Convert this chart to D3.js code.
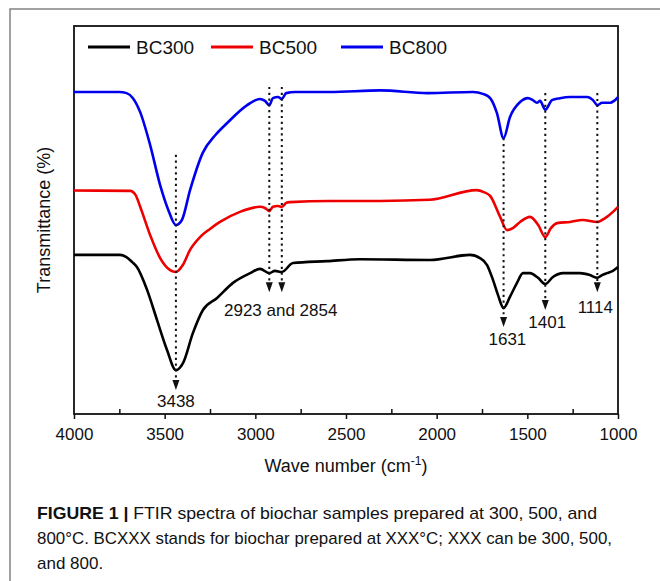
<!DOCTYPE html>
<html>
<head>
<meta charset="utf-8">
<script src="https://cdn.jsdelivr.net/npm/d3@7"></script>
<style>
  body { margin: 0; background: #fff; }
  svg text { font-family: "Liberation Sans", Arial, sans-serif; fill: #111; }
</style>
</head>
<body>
<div class="chart"></div>
<script>
// FTIR spectra (transmittance in arbitrary % units)
var wn300 = [4000,3860,3746,3713,3680,3653,3597,3542,3487,3438,3399,3344,3289,3211,3123,3029,2974,2923,2892,2854,2792,2605,2423,2037,1816,1761,1722,1689,1662,1631,1596,1557,1524,1485,1441,1401,1359,1303,1210,1155,1114,1088,1061,1028,1000];
var t300 = [41.0,41.0,41.0,40.5,39.2,37.9,32.0,24.2,16.5,11.3,13.1,20.9,26.8,29.9,33.8,36.3,37.4,36.3,36.9,36.6,38.9,39.4,39.9,39.7,41.0,40.2,38.4,34.5,30.7,27.3,30.2,33.8,36.3,36.3,35.1,33.5,35.3,36.3,36.3,35.8,35.1,35.8,36.3,36.9,37.9];

var wn500 = [4000,3690,3660,3635,3580,3525,3470,3438,3400,3360,3305,3250,3195,3085,2975,2947,2923,2903,2875,2854,2830,2810,2590,2310,2040,1780,1740,1705,1650,1612,1580,1540,1485,1440,1401,1370,1336,1265,1195,1114,1088,1061,1028,1000];
var t500 = [57.6,57.5,56.4,53.4,46.1,40.2,37.1,36.6,38.4,42.3,45.6,47.7,49.5,52.1,53.4,53.1,52.3,53.4,53.6,53.4,54.4,54.6,54.9,54.9,55.2,57.7,57.2,56.2,50.8,47.4,47.9,49.5,50.8,48.7,45.6,47.9,49.2,49.5,50.0,49.5,50.0,50.8,52.1,53.4];

var wn800 = [4000,3860,3750,3710,3675,3635,3580,3525,3480,3438,3405,3360,3290,3220,3155,3045,2975,2947,2923,2903,2875,2854,2830,2780,2590,2310,2050,1800,1745,1705,1668,1631,1596,1540,1497,1470,1447,1430,1401,1364,1320,1265,1170,1138,1114,1088,1044,1022,1000];
var t800 = [83.0,83.0,83.0,82.7,81.4,77.8,69.3,59.0,52.6,48.7,50.0,57.7,67.3,71.9,75.0,79.6,81.2,80.7,79.6,81.4,81.7,81.2,82.7,83.0,83.0,83.4,82.7,83.0,82.5,81.4,77.6,71.1,76.5,80.4,81.4,80.9,80.2,80.7,78.4,80.9,81.4,81.7,81.7,80.9,79.6,80.2,80.2,80.7,81.7];

var seriesNames = ["BC300", "BC500", "BC800"];
var seriesColors = ["#000000", "#ee0000", "#0000ee"];

// marked bands: dotted line from lineTop down to arrow tip
var peakWn = [3438, 2923, 2854, 1631, 1401, 1114];
var peakTop = [66.8, 84.3, 84.3, 71.1, 82.7, 82.7];
var peakTip = [6.2, 31.4, 31.4, 22.4, 26.8, 31.4];

var peakLabels = ["3438", "2923 and 2854", "1631", "1401", "1114"];
var labelWn = [3438, 2860, 1610, 1390, 1125];
var labelT = [1.8, 25.2, 17.8, 22.2, 26.0];

var majorTicks = [4000, 3500, 3000, 2500, 2000, 1500, 1000];
var minorTicks = [3750, 3250, 2750, 2250, 1750, 1250];

var captionLines = [
  ["FIGURE 1 | ", "FTIR spectra of biochar samples prepared at 300, 500, and"],
  ["", "800\u00B0C. BCXXX stands for biochar prepared at XXX\u00B0C; XXX can be 300, 500,"],
  ["", "and 800."]
];

var svgWidth = 660;
var svgHeight = 581;
var margin = { top: 26, right: 42, bottom: 167, left: 74 };
var width = svgWidth - margin.left - margin.right;
var height = svgHeight - margin.top - margin.bottom;

var svg = d3.select(".chart")
  .append("svg")
  .attr("width", svgWidth)
  .attr("height", svgHeight);

// outer grey figure frame
svg.append("rect")
  .attr("x", 10).attr("y", 9)
  .attr("width", 700).attr("height", 700)
  .attr("fill", "none")
  .attr("stroke", "#8a8a8a")
  .attr("stroke-width", 1.6);

var chartGroup = svg.append("g")
  .attr("transform", `translate(${margin.left}, ${margin.top})`);

var x = d3.scaleLinear().domain([4000, 1000]).range([0, width]);
var y = d3.scaleLinear().domain([0, 100]).range([height, 0]);

// ticks: major outward with labels, minor inward
var bottomAxis = d3.axisBottom(x).tickValues(majorTicks).tickSize(5).tickPadding(9).tickFormat(d3.format("d"));
var axisG = chartGroup.append("g")
  .attr("transform", `translate(0, ${height})`)
  .call(bottomAxis);
axisG.select(".domain").remove();
axisG.selectAll("line").attr("stroke", "#111").attr("stroke-width", 1.5);
axisG.selectAll("text").attr("font-size", 17).attr("font-family", "Liberation Sans, Arial, sans-serif").attr("fill", "#111");

var minorAxis = d3.axisBottom(x).tickValues(minorTicks).tickSize(-5).tickFormat("");
var minorG = chartGroup.append("g")
  .attr("transform", `translate(0, ${height})`)
  .call(minorAxis);
minorG.select(".domain").remove();
minorG.selectAll("line").attr("stroke", "#111").attr("stroke-width", 1.5);

// plot box
chartGroup.append("rect")
  .attr("width", width).attr("height", height)
  .attr("fill", "none")
  .attr("stroke", "#111")
  .attr("stroke-width", 1.8);

// spectra
var line = d3.line()
  .x(d => x(d[0]))
  .y(d => y(d[1]))
  .curve(d3.curveMonotoneX);

var spectra = [d3.zip(wn300, t300), d3.zip(wn500, t500), d3.zip(wn800, t800)];
chartGroup.selectAll(".spectrum")
  .data(spectra)
  .enter()
  .append("path")
  .attr("class", "spectrum")
  .attr("d", line)
  .attr("fill", "none")
  .attr("stroke", (d, i) => seriesColors[i])
  .attr("stroke-width", 2.6)
  .attr("stroke-linejoin", "round");

// dotted markers + arrowheads
var arrowH = 10, arrowW = 7;
peakWn.forEach(function(w, i) {
  var px = x(w);
  var tipY = y(peakTip[i]);
  chartGroup.append("line")
    .attr("x1", px).attr("x2", px)
    .attr("y1", y(peakTop[i])).attr("y2", tipY - arrowH)
    .attr("stroke", "#111")
    .attr("stroke-width", 2)
    .attr("stroke-dasharray", "2.2,3.6");
  chartGroup.append("path")
    .attr("d", `M${px - arrowW / 2},${tipY - arrowH} L${px + arrowW / 2},${tipY - arrowH} L${px},${tipY} Z`)
    .attr("fill", "#111");
});

chartGroup.selectAll(".peakLabel")
  .data(peakLabels)
  .enter()
  .append("text")
  .attr("class", "peakLabel")
  .attr("x", (d, i) => x(labelWn[i]))
  .attr("y", (d, i) => y(labelT[i]))
  .attr("text-anchor", "middle")
  .attr("font-size", 17)
  .text(d => d);

// legend
var legendX = [14, 137, 267];
var legend = chartGroup.selectAll(".legendItem")
  .data(seriesNames)
  .enter()
  .append("g")
  .attr("class", "legendItem")
  .attr("transform", (d, i) => `translate(${legendX[i]}, 21)`);
legend.append("line")
  .attr("x1", 0).attr("x2", 42)
  .attr("stroke", (d, i) => seriesColors[i])
  .attr("stroke-width", 3);
legend.append("text")
  .attr("x", 48).attr("y", 7)
  .attr("font-size", 19)
  .text(d => d);

// axis titles
var xTitle = chartGroup.append("text")
  .attr("x", width / 2)
  .attr("y", height + 58)
  .attr("text-anchor", "middle")
  .attr("font-size", 18);
xTitle.append("tspan").text("Wave number (cm");
xTitle.append("tspan").attr("font-size", 12).attr("dy", -7).text("-1");
xTitle.append("tspan").attr("dy", 7).text(")");

chartGroup.append("text")
  .attr("transform", "rotate(-90)")
  .attr("x", 0 - height / 2)
  .attr("y", -24)
  .attr("text-anchor", "middle")
  .attr("font-size", 18)
  .text("Transmittance (%)");

// caption
var captionWidths = [560, 575, null];
captionLines.forEach(function(parts, i) {
  var t = svg.append("text")
    .attr("x", 37)
    .attr("y", 519 + i * 25)
    .attr("font-size", 17)
    .attr("fill", "#222");
  if (captionWidths[i]) t.attr("textLength", captionWidths[i]).attr("lengthAdjust", "spacingAndGlyphs");
  if (parts[0]) t.append("tspan").attr("font-weight", "bold").text(parts[0]);
  t.append("tspan").text(parts[1]);
});
</script>
</body>
</html>
